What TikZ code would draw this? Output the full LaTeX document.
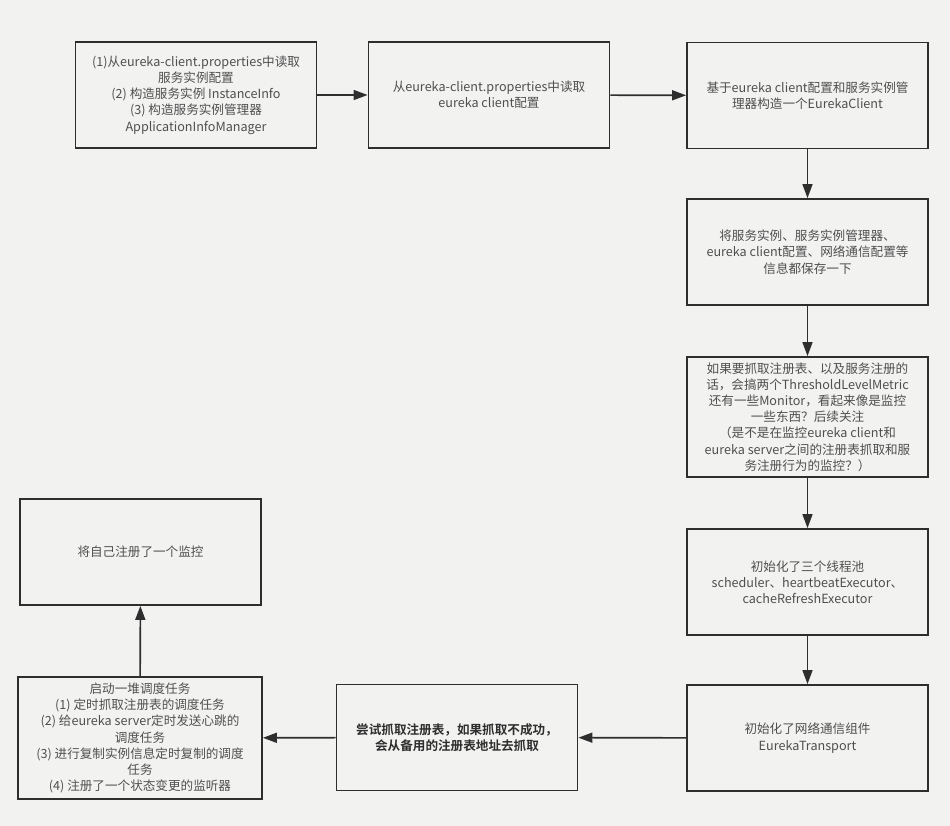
\documentclass[tikz,border=0pt]{standalone}
\usepackage{fontspec}
\setmainfont{Noto Sans CJK SC}[BoldFont={Noto Sans CJK SC Bold}]
\usetikzlibrary{arrows.meta, positioning}

\definecolor{bggray}{HTML}{F2F3F1}
\definecolor{linegray}{HTML}{2E2E2E}
\definecolor{txtgray}{HTML}{4F4F4F}

\begin{document}
\begin{tikzpicture} [
						x=1pt, y=-1pt,
						box/.style={draw=linegray, line width=1.8pt, align=center, text=txtgray,
							minimum width=241pt, minimum height=106pt, inner sep=2pt,
							font=\fontsize{12.6}{16.2}\selectfont},
						flow/.style={-{Triangle[length=14pt,width=10pt]}, line width=1.6pt, draw=linegray}
					]

\useasboundingbox[fill=bggray] (0,0) rectangle (950,826);

\node (1) [box] at (196,95) {(1)从eureka-client.properties中读取\\服务实例配置\\(2) 构造服务实例 InstanceInfo\\(3) 构造服务实例管理器\\ApplicationInfoManager};
\node (2) [box] at (489,95) {从eureka-client.properties中读取\\eureka client配置};
\node (3) [box] at (807.5,95.5) {基于eureka client配置和服务实例管\\理器构造一个EurekaClient};
\node (4) [box] at (807.5,252) {将服务实例、服务实例管理器、\\eureka client配置、网络通信配置等\\信息都保存一下};
\node (5) [box, minimum height=120pt] at (807.5,417) {如果要抓取注册表、以及服务注册的\\话，会搞两个ThresholdLevelMetric\\还有一些Monitor，看起来像是监控\\一些东西？后续关注\\（是不是在监控eureka client和\\eureka server之间的注册表抓取和服\\务注册行为的监控？）};
\node (6) [box] at (807.5,582) {初始化了三个线程池\\scheduler、heartbeatExecutor、\\cacheRefreshExecutor};
\node (7) [box] at (807.5,738) {初始化了网络通信组件\\EurekaTransport};
\node (8) [box, text=linegray, font=\fontsize{12.6}{16.2}\selectfont\bfseries] at (457,737.5) {尝试抓取注册表，如果抓取不成功，\\会从备用的注册表地址去抓取};
\node (9) [box, minimum width=244pt, minimum height=122pt] at (140,738) {启动一堆调度任务\\(1) 定时抓取注册表的调度任务\\(2) 给eureka server定时发送心跳的\\调度任务\\(3) 进行复制实例信息定时复制的调度\\任务\\(4) 注册了一个状态变更的监听器};
\node (10) [box] at (140.5,552) {将自己注册了一个监控};

% main flow
\draw[flow] (1) -- (2);
\draw[flow] (2) -- (3);
\draw[flow] (3) -- (4);
\draw[flow] (4) -- (5);
\draw[flow] (5) -- (6);
\draw[flow] (6) -- (7);
\draw[flow] (7) -- (8);
\draw[flow] (8) -- (9);
\draw[flow] (9) -- (10);
\end{tikzpicture}
\end{document}
